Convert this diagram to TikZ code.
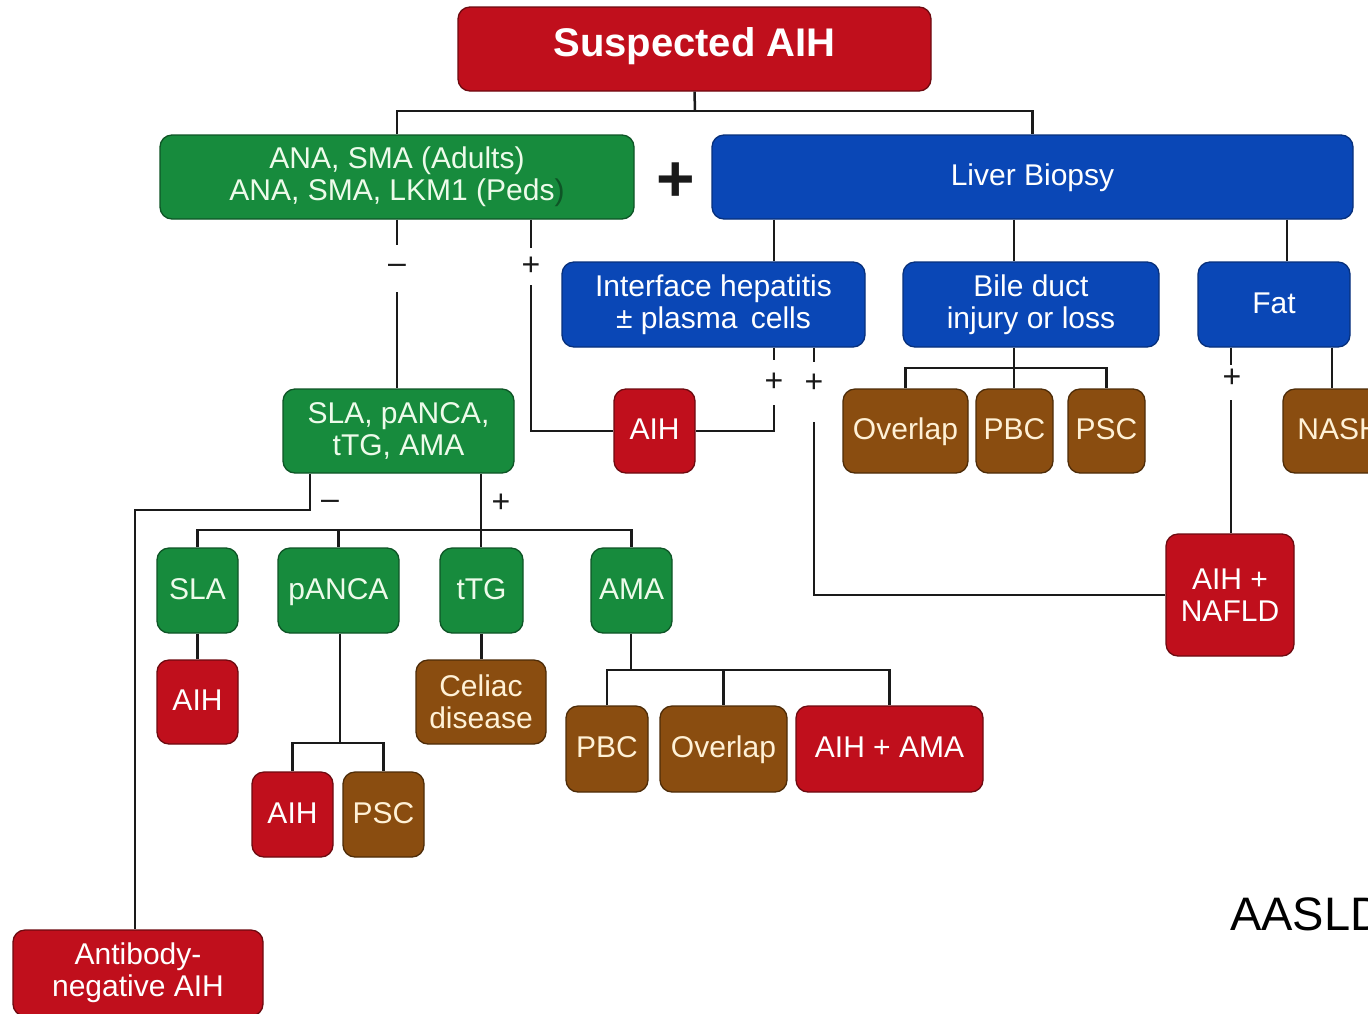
\documentclass[tikz,border=0pt]{standalone}
\usepackage{fontspec}
\setmainfont{Liberation Sans}
\definecolor{cred}{HTML}{C00F1C}
\definecolor{cgreen}{HTML}{178B3D}
\definecolor{cblue}{HTML}{0A47B6}
\definecolor{cbrown}{HTML}{8A4D10}
\definecolor{bred}{HTML}{6E0A10}
\definecolor{bgreen}{HTML}{0E5526}
\definecolor{bblue}{HTML}{07307C}
\definecolor{bbrown}{HTML}{4E2C08}
\definecolor{tgreen}{HTML}{EDFBEA}
\definecolor{tbrown}{HTML}{FFF1D6}
\definecolor{linec}{HTML}{1A1A1A}
\begin{document}
\begin{tikzpicture}[x=1pt,y=-1pt,
  box/.style={draw, line width=1.3pt, rounded corners=12pt, align=center, inner sep=0pt,
    font=\fontsize{30}{32}\selectfont, minimum height=84pt},
  oneline/.style={text height=22pt, text depth=5pt},
  redbox/.style={box, fill=cred, draw=bred, text=white},
  greenbox/.style={box, fill=cgreen, draw=bgreen, text=tgreen},
  bluebox/.style={box, fill=cblue, draw=bblue, text=white},
  brownbox/.style={box, fill=cbrown, draw=bbrown, text=tbrown},
  conn/.style={line width=2.5pt, draw=linec},
  sign/.style={font=\fontsize{32}{32}\selectfont, inner sep=0pt, text=linec}
]
\clip (0,0) rectangle (1368,1013);
\fill[white] (0,0) rectangle (1368,1013);

% boxes
\node[redbox, minimum width=473pt, text height=29pt, text depth=14pt, font=\fontsize{40}{44}\selectfont\bfseries] (title) at (694.5,49) {Suspected AIH};
\node[greenbox, minimum width=474pt] (ana) at (397,177) {ANA, SMA (Adults)\\ANA, SMA, LKM1 (Peds\textcolor{bgreen}{)}};
\node[font=\fontsize{66}{66}\selectfont\bfseries, inner sep=0pt, text=linec] (plus) at (676,182) {+};
\node[bluebox, oneline, minimum width=641pt] (liver) at (1032.5,177) {Liver Biopsy};

\node[bluebox, minimum width=303pt, minimum height=85pt] (iface) at (713.5,304.5) {Interface hepatitis\\{\textpm} plasma\, cells};
\node[bluebox, minimum width=256pt, minimum height=85pt] (bile) at (1031,304.5) {Bile duct\\injury or loss};
\node[bluebox, oneline, minimum width=152pt, minimum height=85pt] (fat) at (1274,304.5) {Fat};

\node[greenbox, minimum width=231pt] (sla4) at (398.5,431) {SLA, pANCA,\\tTG, AMA};
\node[redbox, oneline, minimum width=81pt] (aih1) at (654.5,431) {AIH};
\node[brownbox, oneline, minimum width=125pt] (overlap1) at (905.5,431) {Overlap};
\node[brownbox, oneline, minimum width=77pt] (pbc1) at (1014.5,431) {PBC};
\node[brownbox, oneline, minimum width=77pt] (psc1) at (1106.5,431) {PSC};
\node[brownbox, oneline, minimum width=112pt] (nash) at (1339,431) {NASH};

\node[greenbox, oneline, minimum width=81pt, minimum height=85pt] (sla) at (197.5,590.5) {SLA};
\node[greenbox, oneline, minimum width=121pt, minimum height=85pt] (panca) at (338.5,590.5) {pANCA};
\node[greenbox, oneline, minimum width=83pt, minimum height=85pt] (ttg) at (481.5,590.5) {tTG};
\node[greenbox, oneline, minimum width=81pt, minimum height=85pt] (ama) at (631.5,590.5) {AMA};

\node[redbox, minimum width=128pt, minimum height=122pt] (nafld) at (1230,595) {AIH +\\NAFLD};

\node[redbox, oneline, minimum width=81pt] (aih2) at (197.5,702) {AIH};
\node[brownbox, minimum width=130pt] (celiac) at (481,702) {Celiac\\disease};

\node[brownbox, oneline, minimum width=82pt, minimum height=86pt] (pbc2) at (607,749) {PBC};
\node[brownbox, oneline, minimum width=127pt, minimum height=86pt] (overlap2) at (723.5,749) {Overlap};
\node[redbox, oneline, minimum width=187pt, minimum height=86pt] (aihama) at (889.5,749) {AIH + AMA};

\node[redbox, oneline, minimum width=81pt, minimum height=85pt] (aihp) at (292.5,814.5) {AIH};
\node[brownbox, oneline, minimum width=81pt, minimum height=85pt] (pscp) at (383.5,814.5) {PSC};

\node[redbox, minimum width=250pt, minimum height=86pt] (abneg) at (138,973) {Antibody-\\negative AIH};

\node[anchor=base west, inner sep=0pt, font=\fontsize{47}{50}\selectfont, text=black] (src) at (1230,930) {AASLD};

% top connectors
\coordinate (j0) at (695,111);
\draw[conn] (title.south) -- (j0);
\draw[conn] (ana.north) |- (j0) -| (liver.north);

% antibody branch
\node[sign, minimum height=47pt] (m1) at (397,268.5) {--};
\draw[conn] (ana.south -| m1) -- (m1);
\draw[conn] (m1) -- (m1 |- sla4.north);
\node[sign, minimum height=37pt] (p1) at (531,266.5) {+};
\draw[conn] (ana.south -| p1) -- (p1);
\draw[conn] (p1) |- (aih1.west);

% biopsy branches
\coordinate (bj) at (1014,368);
\coordinate (fj) at (1287,240);
\node[sign, minimum height=45pt] (p2) at (774,382.5) {+};
\draw[conn] (liver.south -| p2) -- (iface.north -| p2);
\draw[conn] (liver.south -| bj) -- (bile.north -| bj);
\draw[conn] (liver.south -| fj) -- (fat.north -| fj);

\draw[conn] (iface.south -| p2) -- (p2);
\draw[conn] (p2) |- (aih1.east);
\coordinate (p3a) at (814,362);
\coordinate (p3b) at (814,422);
\node[sign] (p3) at (814,383) {+};
\draw[conn] (iface.south -| p3a) -- (p3a);
\draw[conn] (p3b) |- (nafld.west);

\draw[conn] (bile.south -| bj) -- (bj);
\draw[conn] (overlap1.north) |- (bj) -| (psc1.north);
\draw[conn] (bj) -- (bj |- pbc1.north);

\coordinate (p4a) at (1231,365);
\coordinate (p4b) at (1231,400);
\node[sign] (p4) at (1232,378) {+};
\draw[conn] (fat.south -| p4a) -- (p4a);
\draw[conn] (p4b) -- (nafld.north -| p4b);
\coordinate (nj) at (1332,360);
\draw[conn] (fat.south -| nj) -- (nash.north -| nj);

% second-line antibodies
\coordinate (nl) at (310,510);
\coordinate (nl2) at (135,510);
\draw[conn] (sla4.south -| nl) -- (nl) -- (nl2) -- (abneg.north -| nl2);
\node[sign] (m2) at (330,505) {--};
\node[sign] (p5) at (501,503) {+};
\coordinate (tj) at (481,530);
\draw[conn] (sla4.south -| tj) -- (ttg.north -| tj);
\draw[conn] (sla.north) |- (tj) -| (ama.north);
\draw[conn] (panca.north |- tj) -- (panca.north);

\draw[conn] (sla.south) -- (aih2.north);
\coordinate (pj) at (340,743);
\draw[conn] (panca.south -| pj) -- (pj);
\draw[conn] (aihp.north) |- (pj) -| (pscp.north);
\draw[conn] (ttg.south) -- (celiac.north -| ttg.south);
\coordinate (aj) at (631,670);
\draw[conn] (ama.south -| aj) -- (aj);
\draw[conn] (pbc2.north) |- (aj) -| (aihama.north);
\draw[conn] (overlap2.north |- aj) -- (overlap2.north);
\end{tikzpicture}
\end{document}
